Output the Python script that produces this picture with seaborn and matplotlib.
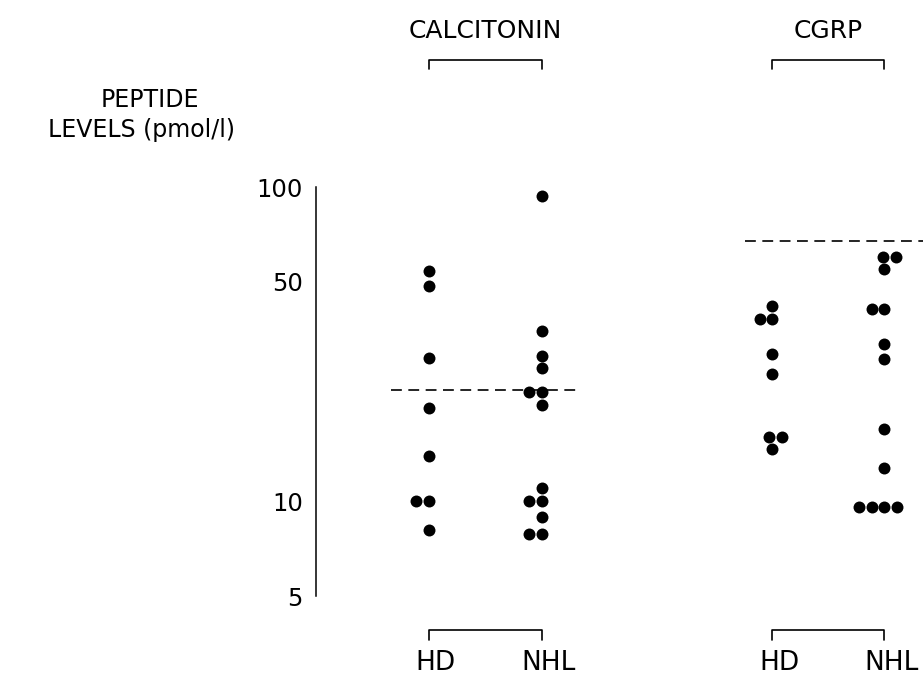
import matplotlib
matplotlib.use("Agg")
import matplotlib.pyplot as plt
import matplotlib.transforms as mtransforms
import numpy as np
import pandas as pd
import seaborn as sns

# Plasma peptide levels (pmol/l) by diagnosis
calc_hd = [54, 48.5, 28.6, 19.8, 14.0, 10, 10, 8.1]
calc_nhl = [94, 35, 29, 26.5, 22.3, 22.3, 20.3, 11, 10, 10, 8.9, 7.9, 7.9]
cgrp_hd = [42, 38, 38, 29.5, 25.5, 16, 16, 14.7]
cgrp_nhl = [60, 60, 55, 41, 41, 31.8, 28.4, 17, 12.8, 9.6, 9.6, 9.6, 9.6]

# Upper limit of normal for each peptide
calc_limit = 22.6
cgrp_limit = 67.5

peptides = ["CALCITONIN", "CGRP"]
diagnoses = ["HD", "NHL"]
y_ticks = [5, 10, 50, 100]
y_label_lines = ["PEPTIDE", "LEVELS (pmol/l)"]

# x positions of the four columns (two per peptide, with a gap between peptides)
col_pos = {("CALCITONIN", "HD"): 0.0, ("CALCITONIN", "NHL"): 1.0,
           ("CGRP", "HD"): 3.04, ("CGRP", "NHL"): 4.03}

series = {("CALCITONIN", "HD"): calc_hd, ("CALCITONIN", "NHL"): calc_nhl,
          ("CGRP", "HD"): cgrp_hd, ("CGRP", "NHL"): cgrp_nhl}

rows = []
for key, vals in series.items():
    for v in vals:
        rows.append({"peptide": key[0], "diagnosis": key[1], "pos": col_pos[key], "level": v})
df = pd.DataFrame(rows)

sns.set_style("white")
plt.rcParams["font.family"] = ["DejaVu Sans"]
plt.rcParams["text.color"] = "black"
plt.rcParams["ytick.color"] = "black"
plt.rcParams["ytick.labelcolor"] = "black"

W, H = 923, 680
fig = plt.figure(figsize=(W / 100, H / 100), dpi=100)
ax = fig.add_axes([316 / W, (H - 596) / H, (W - 316) / W, (596 - 187.3) / H])
ax.set_yscale("log")

sns.swarmplot(data=df, x="pos", y="level", native_scale=True, color="black",
              size=8.6, linewidth=0, ax=ax, clip_on=False)

ax.set_xlim(-1.0, 4.372)
ax.set_ylim(5, 100)
ax.set_yticks(y_ticks)
ax.set_yticklabels([str(t) for t in y_ticks], fontsize=17.5)
ax.yaxis.set_minor_locator(matplotlib.ticker.NullLocator())
ax.tick_params(axis="y", direction="out", length=8, width=1.1, pad=1.5, colors="black")
ax.set_xticks([])
ax.set_xlabel("")
ax.set_ylabel("")
for side in ["top", "right", "bottom"]:
    ax.spines[side].set_visible(False)
ax.spines["left"].set_linewidth(1.1)
ax.spines["left"].set_color("black")

# Normal-range limits
dash = (0, (6.5, 3.9))
ax.plot([-0.34, 1.31], [calc_limit, calc_limit], color="black", lw=1.2, ls=dash)
ax.plot([2.80, 4.372], [cgrp_limit, cgrp_limit], color="black", lw=1.2, ls=dash, clip_on=False)

# Group brackets and labels above and below the columns
bt = mtransforms.blended_transform_factory(ax.transData, fig.transFigure)
for pep in peptides:
    x0 = col_pos[(pep, "HD")]
    x1 = col_pos[(pep, "NHL")]
    top_y, top_tick = 1 - 59.5 / H, 1 - 69 / H
    ax.plot([x0, x0, x1, x1], [top_tick, top_y, top_y, top_tick], color="black",
            lw=1.2, transform=bt, clip_on=False)
    ax.text((x0 + x1) / 2, 1 - 31 / H, pep, transform=bt, ha="center", va="center",
            fontsize=18)
    bot_y, bot_tick = 1 - 630 / H, 1 - 640 / H
    ax.plot([x0, x0, x1, x1], [bot_tick, bot_y, bot_y, bot_tick], color="black",
            lw=1.2, transform=bt, clip_on=False)
    for dg in diagnoses:
        ax.text(col_pos[(pep, dg)] + 0.06, 1 - 663 / H, dg, transform=bt,
                ha="center", va="center", fontsize=19)

fig.text(150 / W, 1 - 100 / H, y_label_lines[0], ha="center", va="center", fontsize=17)
fig.text(142 / W, 1 - 130 / H, y_label_lines[1], ha="center", va="center", fontsize=17)

fig.savefig("out.png", dpi=100)
